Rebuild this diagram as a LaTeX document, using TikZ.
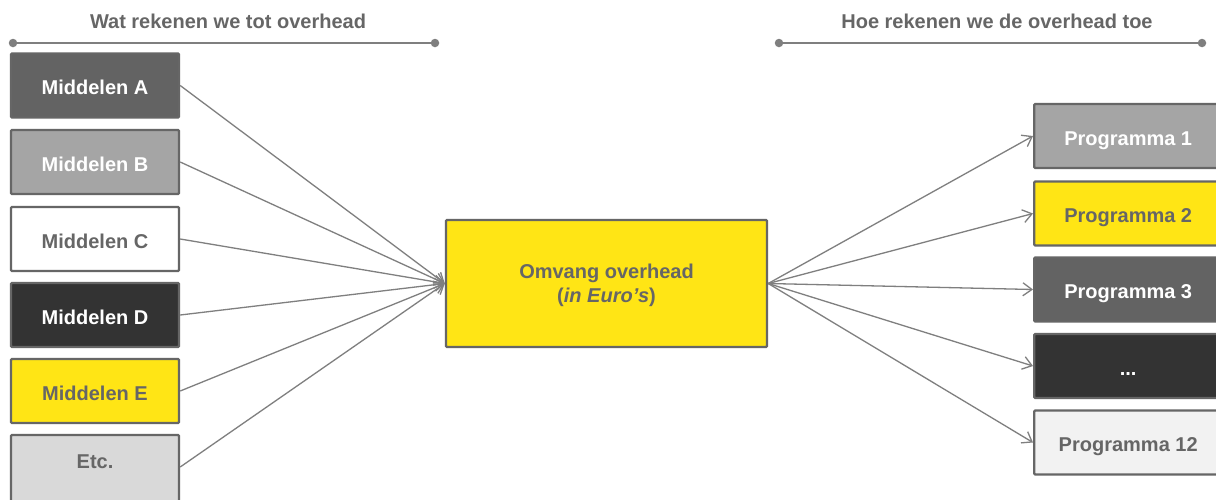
\documentclass[tikz,border=0pt]{standalone}
\usepackage{fontspec}
\setmainfont{Liberation Sans}
\usetikzlibrary{arrows.meta}
\definecolor{txtgray}{HTML}{666666}
\definecolor{bordergray}{HTML}{666666}
\definecolor{linegray}{HTML}{7F7F7F}
\definecolor{cdark}{HTML}{636363}
\definecolor{cmid}{HTML}{A5A5A5}
\definecolor{cblack}{HTML}{333333}
\definecolor{cyellow}{HTML}{FFE515}
\definecolor{clight}{HTML}{D9D9D9}
\definecolor{cpale}{HTML}{F2F2F2}
\tikzset{
  x=1pt, y=-1pt,
  box/.style={draw=bordergray, line width=2.4pt, rounded corners=1pt, inner sep=0pt,
    font=\fontsize{20}{24}\selectfont\bfseries, align=center},
  lbox/.style={box, minimum width=168pt, minimum height=64pt, text height=18pt, text depth=0pt},
  rbox/.style={box, minimum width=188pt, minimum height=64pt, text height=18pt, text depth=0pt},
  darkt/.style={text=white},
  lightt/.style={text=txtgray},
  conn/.style={draw=linegray, line width=1.3pt, -{Straight Barb[length=9pt,width=13pt,line width=1.3pt]}},
  hdr/.style={font=\fontsize{20}{24}\selectfont\bfseries, text=txtgray, inner sep=0pt},
  hline/.style={draw=linegray, line width=1.8pt},
  dot/.style={circle, fill=linegray, inner sep=0pt, minimum size=8.5pt}
}
\begin{document}
\begin{tikzpicture}
\clip (0,0) rectangle (1216,499);
\fill[white] (0,0) rectangle (1216,499);

% headers
\node[hdr] (h1) at (228,21) {Wat rekenen we tot overhead};
\node[dot] (h1a) at (13,43) {};
\node[dot] (h1b) at (435,43) {};
\draw[hline] (h1a) -- (h1b);
\node[hdr] (h2) at (997,21) {Hoe rekenen we de overhead toe};
\node[dot] (h2a) at (779,43) {};
\node[dot] (h2b) at (1202,43) {};
\draw[hline] (h2a) -- (h2b);

% left boxes
\node[lbox, fill=cdark, darkt] (a) at (95,85.5) {Middelen A};
\node[lbox, fill=cmid, darkt] (b) at (95,162) {Middelen B};
\node[lbox, fill=white, lightt] (c) at (95,239) {Middelen C};
\node[lbox, fill=cblack, darkt] (d) at (95,315) {Middelen D};
\node[lbox, fill=cyellow, lightt] (e) at (95,391) {Middelen E};
\node[lbox, fill=clight, lightt, minimum height=80pt, text depth=31.6pt] (etc) at (95,475) {Etc.};

% centre
\node[box, fill=cyellow, text=txtgray, minimum width=321pt, minimum height=127pt,
      font=\fontsize{20}{24}\selectfont\bfseries, text depth=-7pt] (om) at (606.5,283.5)
  {Omvang overhead\\(\textit{in Euro’s})};

% right boxes
\node[rbox, fill=cmid, darkt, anchor=west] (p1) at (1033,136) {Programma 1};
\node[rbox, fill=cyellow, lightt, anchor=west] (p2) at (1033,213.5) {Programma 2};
\node[rbox, fill=cdark, darkt, anchor=west] (p3) at (1033,289.5) {Programma 3};
\node[rbox, fill=cblack, darkt, anchor=west] (p4) at (1033,366) {...};
\node[rbox, fill=cpale, lightt, anchor=west] (p12) at (1033,442.5) {Programma 12};

% connectors
\foreach \n in {a,b,c,d,e} \draw[conn] (\n.east) -- (om.west);
\draw[conn] (etc.east |- 0,467) -- (om.west);
\foreach \n in {p1,p2,p3,p4,p12} \draw[conn] (om.east) -- (\n.west);
\end{tikzpicture}
\end{document}
